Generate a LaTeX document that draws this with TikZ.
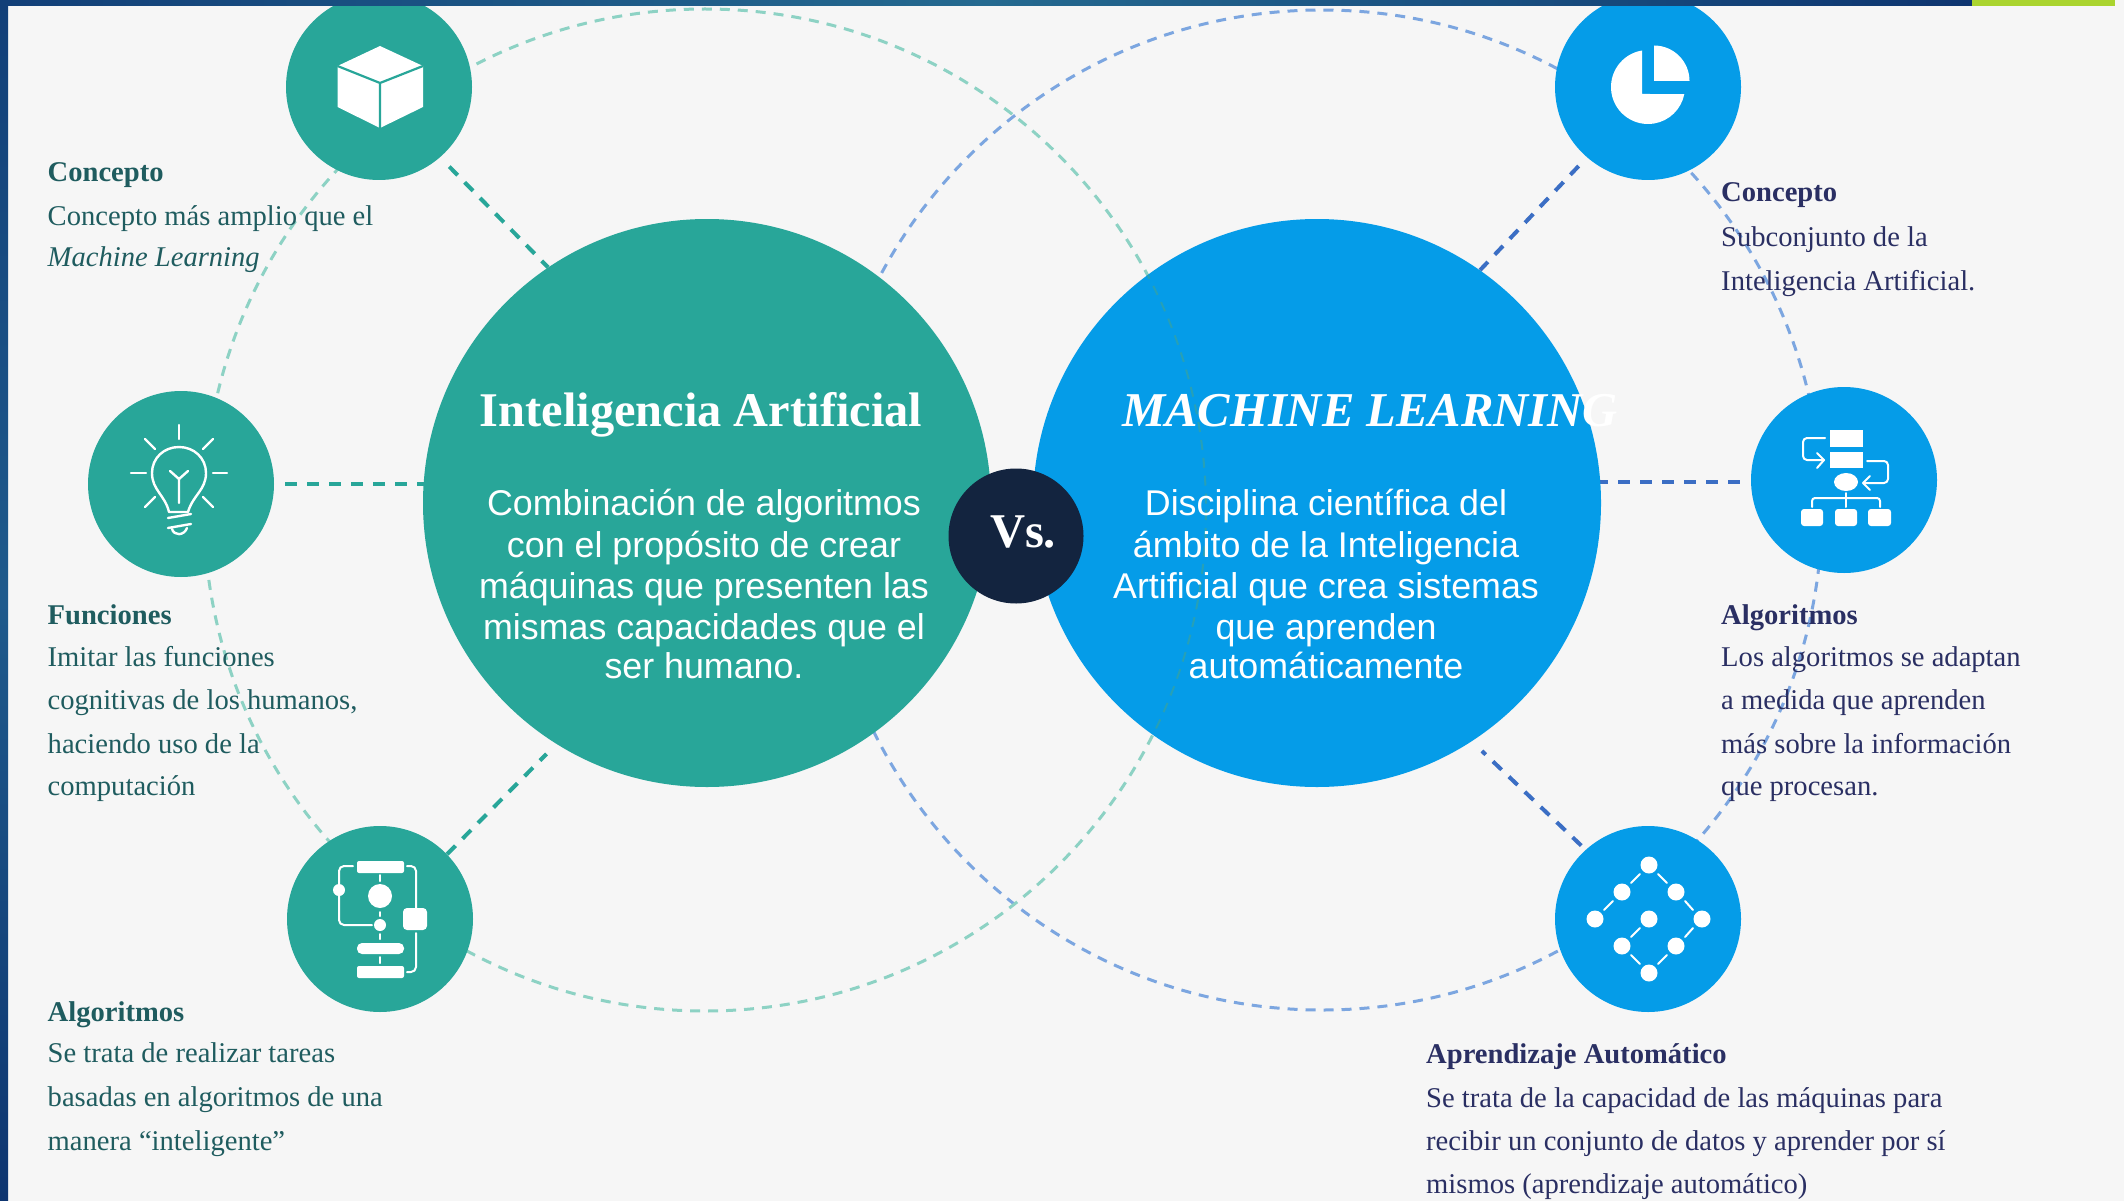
\documentclass[tikz,border=0pt]{standalone}
\usepackage{fontspec}
\setmainfont{Liberation Serif}
\newfontfamily\arialfont{Liberation Sans}
\definecolor{bgc}{HTML}{F6F6F6}
\definecolor{tealc}{HTML}{28A699}
\definecolor{bluec}{HTML}{059CE8}
\definecolor{navyc}{HTML}{13243F}
\definecolor{tealarc}{HTML}{8DD2C4}
\definecolor{bluearc}{HTML}{7CA6E0}
\definecolor{bluespoke}{HTML}{3B6EC4}
\definecolor{overarc}{HTML}{27A0B6}
\definecolor{lefttxt}{HTML}{1F5C5F}
\definecolor{righttxt}{HTML}{2A2F63}
\definecolor{bardark}{HTML}{123F78}
\definecolor{barmid}{HTML}{256A90}
\definecolor{bardeep}{HTML}{0E3570}
\definecolor{barmidv}{HTML}{1F5A8C}
\definecolor{limec}{HTML}{AAD42F}
\tikzset{
  bigdisc/.style={circle,minimum size=568pt,inner sep=0pt,fill=#1},
  smalldisc/.style={circle,minimum size=186pt,inner sep=0pt,fill=#1},
  arcline/.style={draw=#1,line width=3pt,dash pattern=on 10pt off 8pt},
  spoke/.style={draw=#1,line width=4pt,dash pattern=on 12pt off 10pt},
  iconline/.style={draw=white,line width=2.4pt,line cap=round,line join=round},
  noteL/.style={anchor=north west,inner sep=0pt,align=left,text=lefttxt,font=\fontsize{28.6}{35}\selectfont},
  noteR/.style={anchor=north west,inner sep=0pt,align=left,text=righttxt,font=\fontsize{28.6}{35}\selectfont},
  para/.style={anchor=north,inner sep=0pt,align=center,text=white,font=\arialfont\fontsize{35.8}{39}\selectfont},
  headline/.style={anchor=base,inner sep=0pt,text=white,font=\fontsize{48.4}{52}\selectfont\bfseries},
}
\begin{document}
\begin{tikzpicture}[x=1pt,y=1pt,yscale=-1]
\useasboundingbox (0,0) rectangle (2124,1201);
\fill[bgc] (0,0) rectangle (2124,1201);
\coordinate (cL) at (705,510);
\coordinate (cR) at (1322,510);
% discs are placed first as empty nodes so that the spokes can name them
\path node[bigdisc=none,fill=none] (bigL) at (707,503) {}
      node[bigdisc=none,fill=none] (bigR) at (1317,503) {}
      node[smalldisc=none,fill=none] (tl) at (379,87) {}
      node[smalldisc=none,fill=none] (ml) at (181,484) {}
      node[smalldisc=none,fill=none] (bl) at (380,919) {}
      node[smalldisc=none,fill=none] (tr) at (1648,87) {}
      node[smalldisc=none,fill=none] (mr) at (1844,480) {}
      node[smalldisc=none,fill=none] (br) at (1648,919) {};
% dashed orbits
\draw[arcline=bluearc] (cR) circle[radius=500];
\draw[arcline=tealarc] (cL) circle[radius=501];
% spokes
\draw[spoke=tealc,shorten <=13pt] (tl.-49) -- (bigL.124);
\draw[spoke=tealc] ([xshift=11pt]ml.east) -- ++(145,0);
\draw[spoke=tealc,shorten >=14pt] (bl.44) -- (bigL.-122);
\draw[spoke=bluespoke,shorten <=12pt] (tr.-131) -- (bigR.55);
\draw[spoke=bluespoke] ([shift={(-11,2)}]mr.west) -- ++(-145,0);
\draw[spoke=bluespoke,shorten <=6pt,shorten >=14pt] (br.132) -- (bigR.-57);
% big discs
\fill[tealc] (bigL.center) circle[radius=284];
\fill[bluec] (bigR.center) circle[radius=284];
% orbit seen through the blue disc
\begin{scope}
\clip (bigR.center) circle[radius=284];
\draw[draw=overarc,line width=2pt,dash pattern=on 10pt off 8pt] (cL) circle[radius=501];
\end{scope}
% small discs
\fill[tealc] (tl.center) circle[radius=93];
\fill[tealc] (ml.center) circle[radius=93];
\fill[tealc] (bl.center) circle[radius=93];
\fill[bluec] (tr.center) circle[radius=93];
\fill[bluec] (mr.center) circle[radius=93];
\fill[bluec] (br.center) circle[radius=93];
\node[circle,minimum size=135pt,inner sep=0pt,fill=navyc] (vs) at (1016,536) {};
% cube
\fill[white] (380,46) -- (423,66) -- (423,107) -- (380,128) -- (337.5,107) -- (337.5,66) -- cycle;
\draw[draw=tealc,line width=2.2pt] (337.5,66) -- (380,83) -- (423,66) (380,83) -- (380,128);
% bulb
\begin{scope}[iconline]
\draw (179,425) -- (179,439) (131,473) -- (146,473) (213,473) -- (227,473);
\draw (145,439) -- (155,449) (213,439) -- (203,449) (145,507) -- (155,497) (213,507) -- (203,497);
\draw (169,512) .. controls (165,495) and (152,490) .. (152,473) .. controls (152,458) and (164,447) .. (179,447) .. controls (194,447) and (206,458) .. (206,473) .. controls (206,490) and (193,495) .. (188,512) -- cycle;
\draw (179,503) -- (179,479) (170,471) -- (179,479) -- (188,471);
\draw (168,518) -- (191,514) (168,528) -- (191,524);
\draw (172,529) .. controls (174,536) and (184,536) .. (187,528);
\end{scope}
% flowchart, lower left
\fill[white,rounded corners=2pt] (357,861) rectangle (404,873);
\fill[white,rounded corners=5pt] (357,943) rectangle (404,954);
\fill[white,rounded corners=2pt] (357,966) rectangle (404,978);
\fill[white] (380,896) circle[radius=12];
\fill[white] (380,925) circle[radius=6];
\fill[white] (339,890) circle[radius=6];
\fill[white,rounded corners=4pt] (403,908) rectangle (427,930);
\begin{scope}[iconline,line width=2pt,rounded corners=5pt]
\draw (353,866) -- (339,866) -- (339,925) -- (372,925);
\draw (407,866) -- (416,866) -- (416,908);
\draw (416,933) -- (416,972) -- (407,972);
\draw (380,875) -- (380,881) (380,912) -- (380,916) (380,934) -- (380,939) (380,957) -- (380,963);
\end{scope}
% pie
\fill[white] (1642,94) -- (1642,50.5) arc[start angle=260.7,end angle=10.9,radius=37] -- cycle;
\fill[white] (1654,81) -- (1654,45.5) arc[start angle=270,end angle=360,radius=35.5] -- cycle;
% flowchart, right
\fill[white] (1830,430) rectangle (1863,447);
\fill[white] (1830,452) rectangle (1863,468);
\fill[white] (1846,482) ellipse[x radius=12,y radius=9];
\fill[white,rounded corners=3pt] (1801,509) rectangle (1823,526);
\fill[white,rounded corners=3pt] (1835,509) rectangle (1857,526);
\fill[white,rounded corners=3pt] (1868,509) rectangle (1891,526);
\begin{scope}[iconline,line width=2pt]
\draw (1846,493) -- (1846,507);
\draw[rounded corners=3pt] (1812,507) -- (1812,498) -- (1880,498) -- (1880,507);
\draw[rounded corners=4pt] (1825,438) -- (1803,438) -- (1803,460) -- (1824,460);
\draw (1817,453) -- (1824,460) -- (1817,468);
\draw[rounded corners=4pt] (1867,461) -- (1888,461) -- (1888,483) -- (1863,483);
\draw (1870,476) -- (1863,483) -- (1870,490);
\end{scope}
% lattice
\foreach \p in {(1649,865),(1622,892),(1676,892),(1595,919),(1649,919),(1702,919),(1622,946),(1676,946),(1649,973)}
  \fill[white] \p circle[radius=8.5];
\begin{scope}[iconline,line width=2pt]
\draw (1640,874) -- (1631,883) (1613,901) -- (1604,910) (1658,874) -- (1667,883) (1685,901) -- (1693,910);
\draw (1693,928) -- (1685,937) (1667,955) -- (1658,964) (1640,964) -- (1631,955) (1631,937) -- (1640,928);
\end{scope}
% bars
\shade[left color=bardark,right color=bardeep,middle color=barmid] (0,0) rectangle (1972,6);
\fill[limec] (1972,0) rectangle (2115,6);
\shade[top color=bardark,bottom color=bardeep,middle color=barmidv] (0,0) rectangle (8,1201);
% centre texts
\node[headline] (titleL) at (701,426) {Inteligencia Artificial};
\node[headline,font=\fontsize{48.6}{52}\selectfont\bfseries\itshape] (titleR) at (1370,426) {MACHINE LEARNING};
\node[para] (paraL) at (704,488) {\strut Combinación de algoritmos\\[3pt]con el propósito de crear\\[2pt]máquinas que presenten las\\[2pt]mismas capacidades que el\\ser humano.};
\node[para] (paraR) at (1326,488) {\strut Disciplina científica del\\[3pt]ámbito de la Inteligencia\\[2pt]Artificial que crea sistemas\\[2pt]que aprenden\\automáticamente};
\node[anchor=base,inner sep=0pt,text=white,font=\fontsize{48.5}{52}\selectfont\bfseries] (vstxt) at (1023,547) {Vs.};
% notes
\node[noteL] (n1) at (47.5,156.5) {\strut\textbf{Concepto}\\[9pt]Concepto más amplio que el\\[6pt]\textit{Machine Learning}};
\node[noteL] (n2) at (47.5,599.5) {\strut\textbf{Funciones}\\[7pt]Imitar las funciones\\[8.5pt]cognitivas de los humanos,\\[8.5pt]haciendo uso de la\\[7pt]computación};
\node[noteL] (n3) at (47.5,996.5) {\strut\textbf{Algoritmos}\\[6pt]Se trata de realizar tareas\\[9pt]basadas en algoritmos de una\\[9pt]manera “inteligente”};
\node[noteR] (n4) at (1721,176.5) {\strut\textbf{Concepto}\\[10pt]Subconjunto de la\\[9pt]Inteligencia Artificial.};
\node[noteR] (n5) at (1721,599.5) {\strut\textbf{Algoritmos}\\[7pt]Los algoritmos se adaptan\\[8.5pt]a medida que aprenden\\[8.5pt]más sobre la información\\[7pt]que procesan.};
\node[noteR] (n6) at (1426,1038.5) {\strut\textbf{Aprendizaje Automático}\\[9pt]Se trata de la capacidad de las máquinas para\\[8pt]recibir un conjunto de datos y aprender por sí\\[8pt]mismos (aprendizaje automático)};
\end{tikzpicture}
\end{document}
